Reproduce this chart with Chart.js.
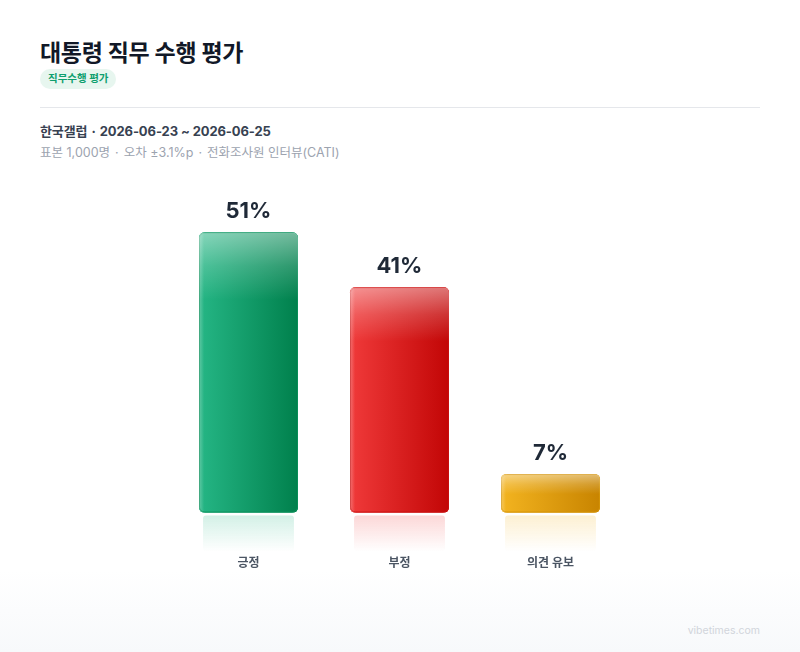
<!DOCTYPE html>
<html><head><meta charset="utf-8">
<script src="https://cdn.jsdelivr.net/npm/chart.js@4.4.1/dist/chart.umd.min.js"></script>
<style>
html,body{margin:0;padding:0;width:800px;height:652px;overflow:hidden;background:#fff;font-family:"Inter","Noto Sans CJK KR",sans-serif;}
#bg{position:absolute;left:0;top:0;width:800px;height:652px;background:linear-gradient(to bottom,#ffffff 0px,#ffffff 570px,#f7f9fb 652px);}
#title{position:absolute;left:40px;top:34px;font-size:23px;font-weight:700;color:#111827;letter-spacing:-0.3px;white-space:nowrap;}
#badge{position:absolute;left:40px;top:69px;height:20px;line-height:20px;padding:0 8px;border-radius:10px;background:#e7f6ef;color:#0e9f6e;font-size:10.5px;font-weight:700;white-space:nowrap;}
#rule{position:absolute;left:40px;top:107px;width:720px;height:1px;background:#e5e7eb;}
#src{position:absolute;left:40px;top:121px;font-size:13px;font-weight:700;color:#374151;white-space:nowrap;letter-spacing:-0.1px;}
#meta{position:absolute;left:40px;top:142px;font-size:12.5px;color:#9ca3af;white-space:nowrap;}
.dot{margin:0 5px;}
#src .dot{margin:0 4px;}
#wm{position:absolute;right:40px;top:624px;font-size:10.5px;color:#d1d5db;white-space:nowrap;}
#wrap{position:absolute;left:0;top:0;width:800px;height:652px;}
</style></head>
<body>
<div id="bg"></div>
<div id="title">대통령 직무 수행 평가</div>
<div id="badge">직무수행 평가</div>
<div id="rule"></div>
<div id="src">한국갤럽<span class="dot">·</span>2026-06-23 ~ 2026-06-25</div>
<div id="meta">표본 1,000명<span class="dot">·</span>오차 ±3.1%p<span class="dot">·</span>전화조사원 인터뷰(CATI)</div>
<div id="wm">vibetimes.com</div>
<div id="wrap"><canvas id="c" width="800" height="652"></canvas></div>
<script>
const categories = ["긍정", "부정", "의견 유보"];
const values = [51, 41, 7];
const colorLight = ["#25b685", "#f03a3a", "#f3b420"];
const colorDark = ["#00804c", "#c20606", "#c88400"];
const colorBorder = ["#0a8f5a", "#c81010", "#d39208"];

function rgba(hex, a) {
  const r = parseInt(hex.substr(1,2),16), g = parseInt(hex.substr(3,2),16), b = parseInt(hex.substr(5,2),16);
  return `rgba(${r},${g},${b},${a})`;
}

const barFx = {
  id: "barFx",
  afterDatasetsDraw(chart) {
    const ctx = chart.ctx;
    const meta = chart.getDatasetMeta(0);
    meta.data.forEach((bar, i) => {
      const w = bar.width, x0 = bar.x - w / 2, x1 = bar.x + w / 2;
      const top = bar.y, base = bar.base, h = base - top;
      const r = 5;
      ctx.save();
      ctx.beginPath();
      ctx.roundRect(x0, top, w, h, r);
      const hg = ctx.createLinearGradient(x0, 0, x1, 0);
      hg.addColorStop(0, colorLight[i]);
      hg.addColorStop(1, colorDark[i]);
      ctx.fillStyle = hg;
      ctx.fill();
      ctx.strokeStyle = colorBorder[i];
      ctx.lineWidth = 1;
      ctx.beginPath();
      ctx.roundRect(x0 + 0.5, top + 0.5, w - 1, h - 1, r);
      ctx.stroke();
      ctx.beginPath();
      ctx.roundRect(x0, top, w, h, r);
      ctx.clip();
      const gh = Math.min(h * 0.6, Math.max(h * 0.24, 20));
      const g = ctx.createLinearGradient(0, top, 0, top + gh);
      g.addColorStop(0, "rgba(255,255,255,0.45)");
      g.addColorStop(0.5, "rgba(255,255,255,0.18)");
      g.addColorStop(1, "rgba(255,255,255,0)");
      ctx.fillStyle = g;
      ctx.fillRect(x0, top, w, gh);
      const lg = ctx.createLinearGradient(x0, 0, x0 + 5, 0);
      lg.addColorStop(0, "rgba(255,255,255,0.28)");
      lg.addColorStop(1, "rgba(255,255,255,0)");
      ctx.fillStyle = lg;
      ctx.fillRect(x0, top, 5, h);
      ctx.restore();
      // reflection
      ctx.save();
      const ry = base + 3, rh = 36;
      const rg = ctx.createLinearGradient(0, ry, 0, ry + rh);
      rg.addColorStop(0, rgba(colorLight[i], 0.2));
      rg.addColorStop(1, rgba(colorLight[i], 0));
      ctx.fillStyle = rg;
      ctx.beginPath();
      ctx.roundRect(x0 + 4, ry, w - 8, rh, 3);
      ctx.fill();
      ctx.restore();
      // value label
      ctx.save();
      ctx.font = '700 22px "Inter", "Noto Sans CJK KR", sans-serif';
      ctx.fillStyle = "#1f2937";
      ctx.textAlign = "center";
      ctx.textBaseline = "middle";
      ctx.fillText(values[i] + "%", bar.x, top - 21);
      ctx.restore();
    });
  }
};

new Chart(document.getElementById("c"), {
  type: "bar",
  data: {
    labels: categories,
    datasets: [{
      data: values,
      backgroundColor: colorLight,
      borderWidth: 0,
      borderRadius: 5,
      borderSkipped: false,
      barPercentage: 0.655,
      categoryPercentage: 1
    }]
  },
  options: {
    responsive: false,
    animation: false,
    devicePixelRatio: 1,
    layout: { padding: { left: 173, right: 174, top: 183, bottom: 37 } },
    plugins: { legend: { display: false }, tooltip: { enabled: false } },
    scales: {
      x: {
        grid: { display: false, drawTicks: false },
        border: { display: false },
        ticks: { color: "#4b5563", font: { family: '"Inter", "Noto Sans CJK KR", sans-serif', size: 12, weight: "700" }, padding: 44 }
      },
      y: { display: false, min: 0, max: 60 }
    }
  },
  plugins: [barFx]
});
</script>
</body></html>
